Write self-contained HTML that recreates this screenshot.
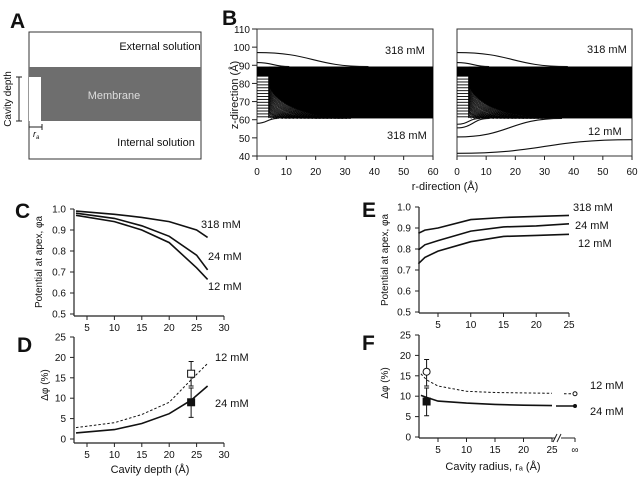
<!DOCTYPE html>
<html><head><meta charset="utf-8"><style>
body{margin:0;background:#fff;}
svg{display:block;font-family:"Liberation Sans",sans-serif;}
text{fill:#111;}
</style></head><body>
<svg id="fig" width="640" height="479" viewBox="0 0 640 479" xmlns="http://www.w3.org/2000/svg">
<g id="pA">
<text x="10" y="28" font-size="21" font-weight="bold">A</text>
<rect x="29" y="32" width="172" height="127" fill="none" stroke="#333" stroke-width="1"/>
<rect x="29" y="67" width="172" height="54" fill="#6e6e6e"/>
<rect x="29" y="77" width="12" height="44" fill="#fff"/>
<text x="160" y="50" font-size="11" text-anchor="middle">External solution</text>
<text x="114" y="99" font-size="11" text-anchor="middle" style="fill:#ddd">Membrane</text>
<text x="156" y="146" font-size="11" text-anchor="middle">Internal solution</text>
<path d="M19 77V121M16 77H22M16 121H22" stroke="#222" fill="none"/>
<text transform="translate(11,99) rotate(-90)" font-size="10" text-anchor="middle">Cavity depth</text>
<path d="M29 127H42M29 124V130M42 124V130" stroke="#222" fill="none"/>
<text x="33" y="137" font-size="9" font-style="italic">r<tspan font-size="6" dy="2">a</tspan></text>
</g>
<text x="222" y="25" font-size="21" font-weight="bold">B</text>
<text x="15" y="218" font-size="21" font-weight="bold">C</text>
<g id="chart"></g>
</svg>
<script>
// ---- data ----
const depthC = [3, 10, 15, 20, 25, 27];
const c318 = [0.99, 0.975, 0.96, 0.94, 0.9, 0.865];
const c24 = [0.98, 0.955, 0.92, 0.87, 0.78, 0.71];
const c12 = [0.97, 0.94, 0.9, 0.84, 0.72, 0.665];
const depthD = [3, 10, 15, 20, 24, 27];
const d12 = [2.8, 4.0, 6.0, 9.0, 14.5, 18.5];
const d24 = [1.5, 2.3, 3.8, 6.2, 9.5, 13.0];
const dExp12 = [24, 16, 13, 19];
const dExp24 = [24, 9, 5.3, 12.5];
const radE = [2, 3, 5, 10, 15, 20, 25];
const e318 = [0.875, 0.89, 0.9, 0.94, 0.95, 0.955, 0.96];
const e24 = [0.795, 0.82, 0.84, 0.885, 0.905, 0.91, 0.92];
const e12 = [0.73, 0.76, 0.79, 0.835, 0.86, 0.865, 0.87];
const f12 = [15.5, 14, 12.5, 11.2, 10.9, 10.8, 10.7];
const f24 = [10.2, 9.7, 8.8, 8.3, 8.0, 7.8, 7.7];
const fInf12 = 10.6, fInf24 = 7.6;
const fExp12 = [3, 16, 12.5, 19];
const fExp24 = [3, 8.7, 5.2, 12];
const ticksPot = ["0.5","0.6","0.7","0.8","0.9","1.0"];
const ticksDelta = ["0","5","10","15","20","25"];
const ticksDepth = ["5","10","15","20","25","30"];
const ticksRad = ["5","10","15","20","25"];
const ticksZ = ["40","50","60","70","80","90","100","110"];
const ticksR = ["0","10","20","30","40","50","60"];

const NS = "http://www.w3.org/2000/svg";
const root = document.getElementById('chart');
function mk(tag, at, parent){ const e=document.createElementNS(NS,tag); for(const k in at) e.setAttribute(k,at[k]); (parent||root).appendChild(e); return e; }
function txt(x,y,s,size,anchor,parent){ const t=mk('text',{x:x,y:y,'font-size':size,'text-anchor':anchor||'middle'},parent); t.textContent=s; return t; }
function scale(d0,d1,p0,p1){ return v=>p0+(v-d0)*(p1-p0)/(d1-d0); }
function pathD(xs,ys,sx,sy){ return xs.map((v,i)=>(i?'L':'M')+sx(v).toFixed(1)+' '+sy(ys[i]).toFixed(1)).join(''); }

function axes(g, sx, sy, xt, yt, x0, x1, y0, y1, yAxisX, xAxisY){
  const ax=mk('path',{d:`M${yAxisX} ${sy(y1)}V${xAxisY}M${yAxisX} ${xAxisY}H${sx(x1)}`,stroke:'#222',fill:'none','stroke-width':1.2},g);
   
  yt.forEach(s=>{ const v=+s; mk('path',{d:`M${yAxisX-4} ${sy(v)}H${yAxisX}`,stroke:'#222'},g);
    const t=txt(yAxisX-8,sy(v)+3.5,s,10,'end',g);   });
  xt.forEach(s=>{ const v=+s; mk('path',{d:`M${sx(v)} ${xAxisY}V${xAxisY+4}`,stroke:'#222'},g);
    const t=txt(sx(v),xAxisY+15,s,10,'middle',g);   });
}
function series(g,xs,ys,sx,sy,dash,name){
  const p=mk('path',{d:pathD(xs,ys,sx,sy),stroke:'#111',fill:'none','stroke-width':dash?1:1.6,'stroke-dasharray':dash?'2.5 2':'none'},g);
    return p;
}
function errPt(g,sx,sy,e,filled,shape,name){
  const x=sx(e[0]);
  mk('path',{d:`M${x} ${sy(e[2])}V${sy(e[3])}M${x-2.5} ${sy(e[2])}H${x+2.5}M${x-2.5} ${sy(e[3])}H${x+2.5}`,stroke:'#111',fill:'none'},g);
  let m;
  if(shape==='circle') m=mk('circle',{cx:x,cy:sy(e[1]),r:3.5,fill:filled?'#111':'#fff',stroke:'#111'},g);
  else m=mk('rect',{x:x-3.5,y:sy(e[1])-3.5,width:7,height:7,fill:filled?'#111':'#fff',stroke:'#111'},g);
   
}
function label(g,x,y,s,name){ const t=txt(x,y,s,11,'start',g);   }

// ---- Panel C ----
{ const g=mk('g',{});  
  const sx=scale(5,30,87,224), sy=scale(0.5,1.0,314,209);
  axes(g,sx,sy,ticksDepth,ticksPot,3,30,0.5,1.0,74,316);
  series(g,depthC,c318,sx,sy,false,'line-c-318mm'); series(g,depthC,c24,sx,sy,false,'line-c-24mm'); series(g,depthC,c12,sx,sy,false,'line-c-12mm');
  label(g,201,228,'318  mM','label-c-318'); label(g,208,260,'24  mM','label-c-24'); label(g,208,290,'12  mM','label-c-12');
  const t=mk('text',{transform:'translate(42,262) rotate(-90)','font-size':10,'text-anchor':'middle'},g); t.textContent='Potential at apex, φa';
   
}
// ---- Panel D ----
{ const g=mk('g',{});  
  const l=txt(17,352,'D',21,'start',g); l.setAttribute('font-weight','bold');  
  const sx=scale(5,30,87,224), sy=scale(0,25,439,337);
  axes(g,sx,sy,ticksDepth,ticksDelta,3,30,0,25,74,443);
  series(g,depthD,d12,sx,sy,true,'line-d-12mm'); series(g,depthD,d24,sx,sy,false,'line-d-24mm');
  errPt(g,sx,sy,dExp12,false,'sq','point-d-12mm'); errPt(g,sx,sy,dExp24,true,'sq','point-d-24mm');
  label(g,215,361,'12  mM','label-d-12'); label(g,215,407,'24  mM','label-d-24');
  const t=mk('text',{transform:'translate(48,385) rotate(-90)','font-size':10,'text-anchor':'middle'},g); t.textContent='Δφ  (%)';
   
  const xt=txt(150,473,'Cavity depth (Å)',11,'middle',g);  
}
// ---- Panel E ----
{ const g=mk('g',{});  
  const l=txt(362,217,'E',21,'start',g); l.setAttribute('font-weight','bold');  
  const sx=scale(5,25,438,569), sy=scale(0.5,1.0,312,207);
  axes(g,sx,sy,ticksRad,ticksPot,2,25,0.5,1.0,419,313);
  series(g,radE,e318,sx,sy,false,'line-e-318mm'); series(g,radE,e24,sx,sy,false,'line-e-24mm'); series(g,radE,e12,sx,sy,false,'line-e-12mm');
  label(g,573,211,'318  mM','label-e-318'); label(g,575,229,'24  mM','label-e-24'); label(g,578,247,'12  mM','label-e-12');
  const t=mk('text',{transform:'translate(388,260) rotate(-90)','font-size':10,'text-anchor':'middle'},g); t.textContent='Potential at apex, φa';
   
}
// ---- Panel F ----
{ const g=mk('g',{});  
  const l=txt(362,350,'F',21,'start',g); l.setAttribute('font-weight','bold');  
  const sx=scale(5,25,438,552), sy=scale(0,25,437,335);
  axes(g,sx,sy,ticksRad,ticksDelta,2,25,0,25,419,438);
  mk('path',{d:'M552 438H575M575 438V442',stroke:'#222'},g);
  mk('rect',{x:555,y:433,width:6,height:10,fill:'#fff'},g);
  mk('path',{d:'M553 442L557 434M557 442L561 434',stroke:'#222',fill:'none'},g);
  const inf=txt(575,453,'∞',10,'middle',g);  
  series(g,radE,f12,sx,sy,true,'line-f-12mm'); series(g,radE,f24,sx,sy,false,'line-f-24mm');
  const p1=mk('path',{d:`M564 ${sy(fInf12)}H575`,stroke:'#111','stroke-dasharray':'2.5 2'},g);  
  const p2=mk('path',{d:`M556 ${sy(fInf24)}H575`,stroke:'#111','stroke-width':1.6},g);  
  const c1=mk('circle',{cx:575,cy:sy(fInf12),r:2,fill:'#fff',stroke:'#111'},g);  
  const c2=mk('circle',{cx:575,cy:sy(fInf24),r:2,fill:'#111'},g);  
  errPt(g,sx,sy,fExp12,false,'circle','point-f-12mm'); errPt(g,sx,sy,fExp24,true,'sq','point-f-24mm');
  label(g,590,389,'12  mM','label-f-12'); label(g,590,415,'24  mM','label-f-24');
  const t=mk('text',{transform:'translate(388,383) rotate(-90)','font-size':10,'text-anchor':'middle'},g); t.textContent='Δφ  (%)';
   
  const xt=txt(493,470,'Cavity radius, rₐ (Å)',11,'middle',g);  
}
// ---- Panel B contour plots ----
const bTopLines = [[0,97,38,89.3],[0,91.5,11,89.3]];
const bBotLeft = [[0,58,7,60.7]];
const bBotRight = [[0,57.5,8,60.7],[0,55.5,11,60.7],[0,50.5,36,60.7],[0,41.5,60,49]];
function contour(x0,x1,isLeft,name){
  const g=mk('g',{});  
  const sx=scale(0,60,x0,x1), sy=scale(40,110,156,29);
  mk('rect',{x:x0,y:sy(110),width:x1-x0,height:sy(40)-sy(110),fill:'none',stroke:'#333'},g);
  mk('rect',{x:sx(0),y:sy(89.3),width:x1-x0,height:sy(84)-sy(89.3),fill:'#000'},g);
  const band=mk('rect',{x:sx(4),y:sy(89.3),width:sx(60)-sx(4),height:sy(60.7)-sy(89.3),fill:'#000'},g);
   
  const zs=79, n=22;
  mk('path',{d:`M${sx(4)} ${sy(zs)}C${sx(6)} ${sy(70)},${sx(14)} ${sy(61.5)},${sx(32)} ${sy(60.7)}L${sx(4)} ${sy(60.7)}Z`,fill:'#fff'},g);
  for(let i=0;i<n;i++){ const z=zs-i*(zs-61.5)/(n-1); const re=32-i*(27/(n-1));
    mk('path',{d:`M${sx(4)} ${sy(z)}C${sx(4+(re-4)*0.07)} ${sy(z-(z-61)*0.5)},${sx(4+(re-4)*0.33)} ${sy(61.5)},${sx(re)} ${sy(60.7)}`,fill:'none',stroke:'#000','stroke-width':0.8},g); }
  for(let i=0;i<15;i++){ const z=84-i*1.6; mk('path',{d:`M${sx(0)} ${sy(z)}H${sx(4)}`,stroke:'#000','stroke-width':0.9},g); }
  mk('path',{d:`M${sx(4)} ${sy(84)}V${sy(61)}`,stroke:'#000','stroke-width':1},g);
  const lines=bTopLines.concat(isLeft?bBotLeft:bBotRight);
  lines.forEach(l=>{ const [r0,z0,r1,z1]=l; const m=(r0+r1)/2;
    const p=mk('path',{d:`M${sx(r0)} ${sy(z0)}C${sx(m)} ${sy(z0)},${sx(m)} ${sy(z1)},${sx(r1)} ${sy(z1)}`,fill:'none',stroke:'#111','stroke-width':1.1},g);
      });
  ticksR.forEach(s=>{ const v=+s; mk('path',{d:`M${sx(v)} ${sy(40)}V${sy(40)+4}`,stroke:'#222'},g);
    const t=txt(sx(v),sy(40)+19,s,10,'middle',g);   });
  if(isLeft){ ticksZ.forEach(s=>{ const v=+s; mk('path',{d:`M${x0-5} ${sy(v)}H${x0}`,stroke:'#222'},g);
    const t=txt(x0-7,sy(v)+4,s,10,'end',g);   }); }
  return g;
}
{ const gl=contour(257,433,true,'panel-b-left');
  label(gl,385,54,'318  mM','label-b-left-top'); label(gl,387,139,'318  mM','label-b-left-bottom');
  const t=mk('text',{transform:'translate(238,95) rotate(-90)','font-size':11,'text-anchor':'middle'},gl); t.textContent='z-direction  (Å)';
   
  const gr=contour(457,632,false,'panel-b-right');
  label(gr,587,53,'318  mM','label-b-right-top'); label(gr,588,135,'12  mM','label-b-right-bottom');
  const xt=txt(445,190,'r-direction  (Å)',11,'middle',gr);  
}
</script>
</body></html>
